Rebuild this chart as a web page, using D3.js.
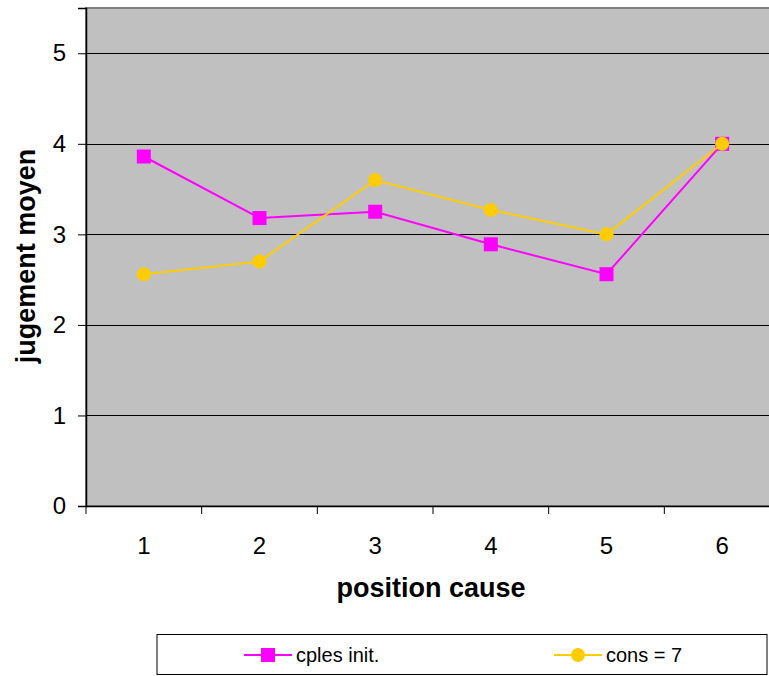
<!DOCTYPE html>
<html><head><meta charset="utf-8">
<script src="https://cdn.jsdelivr.net/npm/d3@7"></script>
<style>body{margin:0;background:#fff}svg{display:block}text{font-family:"Liberation Sans",Arial,sans-serif}</style>
</head><body>
<svg id="c" width="769" height="676"></svg>
<script>
const categories = ["1","2","3","4","5","6"];
const cplesInit = [3.86, 3.18, 3.25, 2.89, 2.56, 4.0];
const cons7 = [2.56, 2.70, 3.60, 3.27, 3.00, 4.0];
const yTicks = [0,1,2,3,4,5];
const seriesNames = ["cples init.", "cons = 7"];

const svg = d3.select("#c");
const L = 86, R = 780, T = 8, B = 506;
const x = d3.scaleBand().domain(categories).range([L, R]);
const y = d3.scaleLinear().domain([0, 5.5]).range([B, T]);

svg.append("rect").attr("x", L).attr("y", T).attr("width", R - L).attr("height", B - T)
  .attr("fill", "#c0c0c0").attr("stroke", "#808080").attr("stroke-width", 2);

// gridlines
svg.append("g").selectAll("line").data(yTicks.filter(d => d > 0)).join("line")
  .attr("x1", L).attr("x2", R).attr("y1", d => Math.round(y(d)) + 0.5).attr("y2", d => Math.round(y(d)) + 0.5)
  .attr("stroke", "#000").attr("stroke-width", 1);

// y axis
const ya = svg.append("g").attr("transform", `translate(${L},0)`)
  .call(d3.axisLeft(y).tickValues(yTicks).tickSize(8).tickPadding(12).tickFormat(d3.format("d")));
ya.select(".domain").attr("stroke", "#000").attr("stroke-width", 1.5);
ya.selectAll(".tick line").attr("stroke", "#000");
ya.selectAll("text").attr("font-size", 24).attr("fill", "#000").attr("font-family", "Liberation Sans, Arial");

// x axis
const xEdges = d3.range(categories.length + 1).map(i => L + i * x.bandwidth());
const xa = svg.append("g").attr("transform", `translate(0,${B})`);
xa.append("line").attr("x1", L).attr("x2", R).attr("y1", 0.5).attr("y2", 0.5).attr("stroke", "#000").attr("stroke-width", 1.5);
xa.selectAll(".xt").data(xEdges).join("line").attr("class", "xt")
  .attr("x1", d => d).attr("x2", d => d).attr("y1", 0).attr("y2", 8).attr("stroke", "#000");
xa.selectAll(".xl").data(categories).join("text").attr("class", "xl")
  .attr("x", d => x(d) + x.bandwidth() / 2).attr("y", 48).attr("text-anchor", "middle")
  .attr("font-size", 24).text(d => d);

// titles
svg.append("text").attr("x", 431).attr("y", 597).attr("text-anchor", "middle")
  .attr("font-size", 27).attr("font-weight", "bold").text("position cause");
svg.append("text").attr("transform", "translate(35,256) rotate(-90)").attr("text-anchor", "middle")
  .attr("font-size", 27).attr("font-weight", "bold").text("jugement moyen");

const cx = d => x(d) + x.bandwidth() / 2;
const line = d3.line().x((d, i) => cx(categories[i])).y(d => y(d));

// series
svg.append("path").datum(cplesInit).attr("d", line).attr("fill", "none").attr("stroke", "#ff00ff").attr("stroke-width", 2);
svg.append("g").selectAll("rect").data(cplesInit).join("rect")
  .attr("x", (d, i) => cx(categories[i]) - 7).attr("y", d => y(d) - 7).attr("width", 14).attr("height", 14).attr("fill", "#ff00ff");
svg.append("path").datum(cons7).attr("d", line).attr("fill", "none").attr("stroke", "#ffcc00").attr("stroke-width", 2);
svg.append("g").selectAll("circle").data(cons7).join("circle")
  .attr("cx", (d, i) => cx(categories[i])).attr("cy", d => y(d)).attr("r", 7).attr("fill", "#ffcc00");

// legend
const lg = svg.append("g");
lg.append("rect").attr("x", 157).attr("y", 634.5).attr("width", 610).attr("height", 40).attr("fill", "#fff").attr("stroke", "#000").attr("stroke-width", 1);
const items = [{name: seriesNames[0], color: "#ff00ff", shape: "square", x0: 244},
               {name: seriesNames[1], color: "#ffcc00", shape: "circle", x0: 554}];
items.forEach(it => {
  lg.append("line").attr("x1", it.x0).attr("x2", it.x0 + 48).attr("y1", 655).attr("y2", 655).attr("stroke", it.color).attr("stroke-width", 2);
  if (it.shape === "square") lg.append("rect").attr("x", it.x0 + 17).attr("y", 648).attr("width", 14).attr("height", 14).attr("fill", it.color);
  else lg.append("circle").attr("cx", it.x0 + 24).attr("cy", 655).attr("r", 7).attr("fill", it.color);
  lg.append("text").attr("x", it.x0 + 52).attr("y", 662).attr("font-size", 20).text(it.name);
});
</script>
</body></html>
